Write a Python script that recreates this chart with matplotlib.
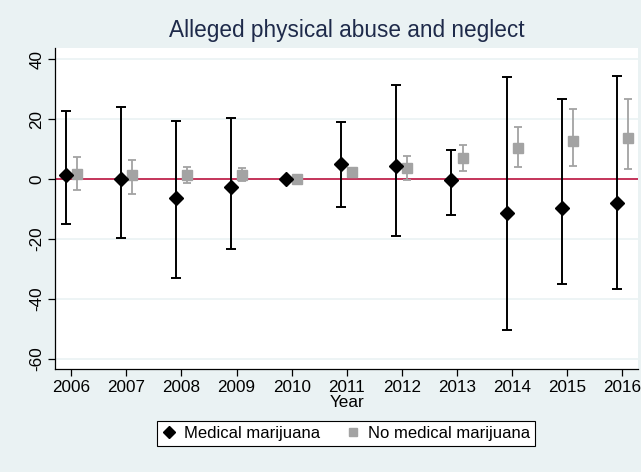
import matplotlib
matplotlib.use("Agg")
import matplotlib.pyplot as plt
from matplotlib.lines import Line2D
import numpy as np

plt.rcParams['font.family'] = ['Liberation Sans', 'DejaVu Sans']

years = [2006, 2007, 2008, 2009, 2010, 2011, 2012, 2013, 2014, 2015, 2016]

# Medical marijuana states: point estimate and 95% CI
med_est = [1.2, 0.0, -6.5, -2.8, 0.0, 4.9, 4.3, -0.2, -11.5, -9.7, -7.9]
med_lo = [-14.9, -19.6, -33.0, -23.4, 0.0, -9.2, -19.1, -12.0, -50.6, -35.0, -36.7]
med_hi = [22.6, 24.0, 19.3, 20.3, 0.0, 19.0, 31.3, 9.8, 34.0, 26.7, 34.5]

# No medical marijuana states: point estimate and 95% CI
nomed_est = [1.8, 1.2, 1.2, 1.2, 0.0, 2.2, 3.8, 6.9, 10.2, 12.8, 13.8]
nomed_lo = [-3.8, -5.0, -1.3, -0.7, 0.0, 0.6, -0.5, 2.7, 3.9, 4.2, 3.3]
nomed_hi = [7.2, 6.3, 4.1, 3.6, 0.0, 3.8, 7.7, 11.5, 17.5, 23.3, 26.8]

yticks = [-60, -40, -20, 0, 20, 40]

bg = '#EAF2F3'
gray = '#A3A3A3'
zero_col = '#C4345A'

fig = plt.figure(figsize=(6.41, 4.72), dpi=100, facecolor=bg)
ax = fig.add_axes([0.0863, 0.2189, 0.9095, 0.6788])
ax.set_facecolor('white')

yrs = np.array(years, dtype=float)
off = 0.1

ax.set_xlim(2005.711, 2016.29)
ax.set_ylim(-63.36, 43.65)

for t in yticks:
    ax.axhline(t, color=bg, lw=1.2, zorder=0)
ax.axhline(0, color=zero_col, lw=1.4, zorder=1)

med_est_a = np.array(med_est)
med_err = [med_est_a - np.array(med_lo), np.array(med_hi) - med_est_a]
nomed_est_a = np.array(nomed_est)
nomed_err = [nomed_est_a - np.array(nomed_lo), np.array(nomed_hi) - nomed_est_a]

ax.errorbar(yrs - off, med_est, yerr=med_err, fmt='none', ecolor='black',
            elinewidth=1.4, capsize=3.4, capthick=1.4, zorder=2)
ax.errorbar(yrs + off, nomed_est, yerr=nomed_err, fmt='none', ecolor=gray,
            elinewidth=1.3, capsize=3.2, capthick=1.3, zorder=2)
ax.plot(yrs - off, med_est, linestyle='none', marker='D', ms=7,
        color='black', zorder=4)
ax.plot(yrs + off, nomed_est, linestyle='none', marker='s', ms=6.8,
        color=gray, zorder=3)

for s in ['top', 'right']:
    ax.spines[s].set_visible(False)
for s in ['left', 'bottom']:
    ax.spines[s].set_color('black')
    ax.spines[s].set_linewidth(0.9)

ax.set_xticks(years)
ax.set_xticklabels([str(y) for y in years], fontsize=12.3)
ax.set_yticks(yticks)
ax.set_yticklabels([str(t) for t in yticks], fontsize=12.3, rotation=90,
                   va='center')
ax.tick_params(axis='both', length=5, width=0.9, color='black', pad=3)
ax.set_xlabel('Year', fontsize=12.3, labelpad=0)

ax.set_title('Alleged physical abuse and neglect', fontsize=16.3,
             color='#1E2A4A', pad=8)

handles = [
    Line2D([], [], linestyle='none', marker='D', ms=6, color='black'),
    Line2D([], [], linestyle='none', marker='s', ms=6, color=gray),
]
leg = fig.legend(handles, ['Medical marijuana', 'No medical marijuana'],
                 loc='center', bbox_to_anchor=(0.540, 0.082), ncol=2,
                 fontsize=12, frameon=True, fancybox=False,
                 edgecolor='black', facecolor='white', framealpha=1,
                 handlelength=0.8, handletextpad=0.5, columnspacing=1.6,
                 borderpad=0.3)
leg.get_frame().set_linewidth(0.8)

fig.savefig('out.png', dpi=100, facecolor=bg)
